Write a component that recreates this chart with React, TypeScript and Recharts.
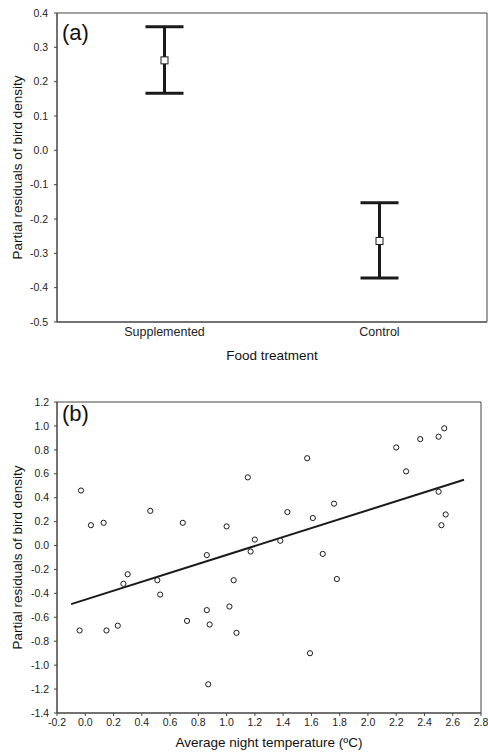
import React from 'react';
import {
  ComposedChart,
  Line,
  ErrorBar,
  ScatterChart,
  Scatter,
  XAxis,
  YAxis,
  ReferenceLine,
  ReferenceArea,
} from 'recharts';

// Panel (a): food treatment means with confidence limits
const categories = ['Supplemented', 'Control'];
const means = [0.262, -0.264];
const upperLimits = [0.36, -0.153];
const lowerLimits = [0.166, -0.372];
const yTicksA = [-0.5, -0.4, -0.3, -0.2, -0.1, 0, 0.1, 0.2, 0.3, 0.4];

// Panel (b): partial residuals vs average night temperature
const nightTemp = [
  -0.03, 0.04, 0.13, 0.46, 0.69, 1.15, 1.0, 1.2, 1.17, 0.86,
  0.3, 0.27, 0.51, 0.53, 1.05, 0.86, 1.02, 0.72, 0.88, 1.07,
  -0.04, 0.15, 0.23, 0.87, 1.57, 2.2, 2.37, 2.5, 2.54, 2.27,
  2.5, 2.55, 2.52, 1.76, 1.43, 1.61, 1.38, 1.68, 1.78, 1.59,
];
const residuals = [
  0.46, 0.17, 0.19, 0.29, 0.19, 0.57, 0.16, 0.05, -0.05, -0.08,
  -0.24, -0.32, -0.29, -0.41, -0.29, -0.54, -0.51, -0.63, -0.66, -0.73,
  -0.71, -0.71, -0.67, -1.16, 0.73, 0.82, 0.89, 0.91, 0.98, 0.62,
  0.45, 0.26, 0.17, 0.35, 0.28, 0.23, 0.04, -0.07, -0.28, -0.9,
];
const fitX = [-0.1, 2.68];
const fitY = [-0.49, 0.55];
const xTicksB = [-0.2, 0, 0.2, 0.4, 0.6, 0.8, 1.0, 1.2, 1.4, 1.6, 1.8, 2.0, 2.2, 2.4, 2.6, 2.8];
const yTicksB = [-1.4, -1.2, -1.0, -0.8, -0.6, -0.4, -0.2, 0, 0.2, 0.4, 0.6, 0.8, 1.0, 1.2];

const FONT = '"Liberation Sans", Arial, Helvetica, sans-serif';
const AXIS = '#444';
const INK = '#1a1a1a';
const tickStyle = { fontSize: 10.5, fill: '#222', fontFamily: FONT };
const titleStyle = { fontSize: 13.5, fill: '#111', fontFamily: FONT };

const treatmentData = categories.map((name, i) => ({
  name,
  mean: means[i],
  err: [means[i] - lowerLimits[i], upperLimits[i] - means[i]],
}));

const scatterData = nightTemp.map((x, i) => ({ x, y: residuals[i] }));

const fmt = (v: number) => v.toFixed(1);

const SquareDot = (props: any) => {
  const { cx, cy, index } = props;
  if (cx == null || cy == null) return <g key={`sq-${index}`} />;
  return (
    <rect
      key={`sq-${index}`}
      x={cx - 3.5}
      y={cy - 3.5}
      width={7}
      height={7}
      fill="#fff"
      stroke={INK}
      strokeWidth={1}
    />
  );
};

const OpenCircle = (props: any) => (
  <circle cx={props.cx} cy={props.cy} r={2.6} fill="#fff" stroke={INK} strokeWidth={1} />
);

const panelLabel = (top: number): React.CSSProperties => ({
  position: 'absolute',
  left: 62,
  top,
  fontSize: 22,
  lineHeight: 1,
  fontFamily: FONT,
  color: '#111',
});

export default function App() {
  return (
    <div style={{ position: 'absolute', left: 0, top: 0, width: 488, height: 755, background: '#fff' }}>
      {/* Panel (a) */}
      <div style={{ position: 'absolute', left: 0, top: 0 }}>
        <ComposedChart
          width={488}
          height={370}
          data={treatmentData}
          margin={{ top: 13, right: 1, bottom: 0, left: 0 }}
        >
          <XAxis
            dataKey="name"
            type="category"
            scale="band"
            stroke={AXIS}
            tickSize={0}
            tickMargin={5}
            height={48}
            tick={{ ...tickStyle, fontSize: 12.5 }}
            label={{ value: 'Food treatment', position: 'insideBottom', offset: 10, style: titleStyle }}
          />
          <YAxis
            type="number"
            domain={[-0.5, 0.4]}
            ticks={yTicksA}
            tickFormatter={fmt}
            stroke={AXIS}
            tickSize={3}
            tickMargin={6}
            width={57}
            tick={tickStyle}
            label={{
              value: 'Partial residuals of bird density',
              angle: -90,
              position: 'insideLeft',
              offset: 17,
              style: { ...titleStyle, textAnchor: 'middle' },
            }}
          />
          <ReferenceArea y1={-0.5} y2={0.4} fill="none" stroke={AXIS} ifOverflow="visible" />
          <Line
            dataKey="mean"
            stroke="none"
            dot={SquareDot}
            activeDot={false}
            isAnimationActive={false}
          >
            <ErrorBar dataKey="err" direction="y" width={19} stroke={INK} strokeWidth={3} />
          </Line>
        </ComposedChart>
      </div>
      <div style={panelLabel(22)}>(a)</div>

      {/* Panel (b) */}
      <div style={{ position: 'absolute', left: 0, top: 380 }}>
        <ScatterChart width={488} height={375} margin={{ top: 22, right: 7, bottom: 0, left: 0 }}>
          <XAxis
            dataKey="x"
            type="number"
            domain={[-0.2, 2.8]}
            ticks={xTicksB}
            tickFormatter={fmt}
            stroke={AXIS}
            tickSize={3}
            tickMargin={3}
            height={42}
            tick={tickStyle}
            label={{ value: 'Average night temperature (ºC)', position: 'insideBottom', offset: 8, style: titleStyle }}
          />
          <YAxis
            dataKey="y"
            type="number"
            domain={[-1.4, 1.2]}
            ticks={yTicksB}
            tickFormatter={fmt}
            stroke={AXIS}
            tickSize={3}
            tickMargin={5}
            width={57}
            tick={tickStyle}
            label={{
              value: 'Partial residuals of bird density',
              angle: -90,
              position: 'insideLeft',
              offset: 17,
              style: { ...titleStyle, textAnchor: 'middle' },
            }}
          />
          <ReferenceArea x1={-0.2} x2={2.8} y1={-1.4} y2={1.2} fill="none" stroke={AXIS} ifOverflow="visible" />
          <ReferenceLine
            segment={[
              { x: fitX[0], y: fitY[0] },
              { x: fitX[1], y: fitY[1] },
            ]}
            stroke={INK}
            strokeWidth={2}
          />
          <Scatter data={scatterData} shape={OpenCircle} isAnimationActive={false} />
        </ScatterChart>
      </div>
      <div style={panelLabel(403)}>(b)</div>
    </div>
  );
}
